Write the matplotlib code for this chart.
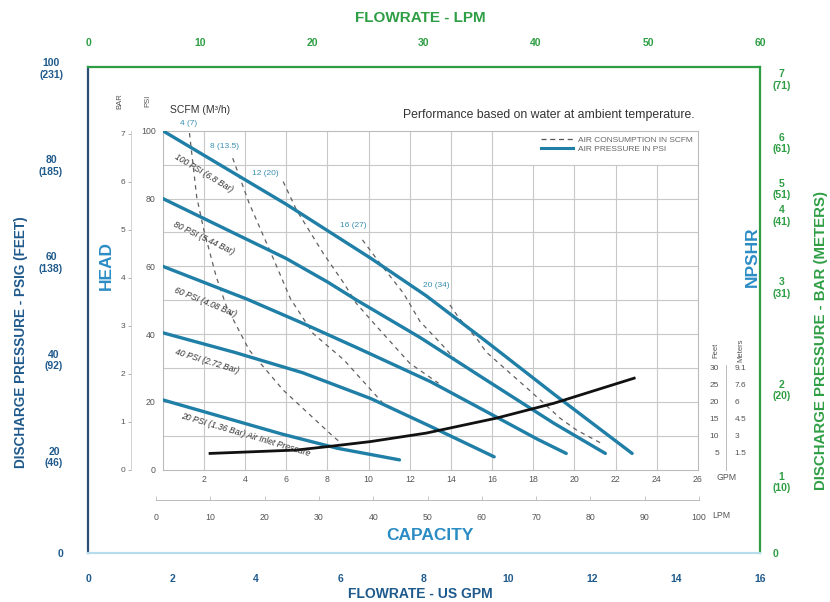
import numpy as np
import matplotlib
matplotlib.use('Agg')
import matplotlib.pyplot as plt
from matplotlib.lines import Line2D

plt.rcParams['font.family'] = ['Liberation Sans Narrow', 'Liberation Sans', 'DejaVu Sans']

# ---- data ----
# air inlet pressure curves (x = US GPM, y = PSI head)
p100_gpm = [0, 6.0, 10.1, 12.8, 15.7, 19.0, 22.8]
p100_psi = [100, 78.3, 62.4, 51.3, 37.9, 22.3, 4.8]
p80_gpm = [0, 6.0, 8.0, 9.4, 12.5, 15.7, 19.0, 21.5]
p80_psi = [80, 62.3, 55.4, 50.1, 39.0, 26.5, 13.7, 4.8]
p60_gpm = [0, 4.1, 6.8, 9.5, 13.0, 15.7, 18.2, 19.6]
p60_psi = [60, 50.3, 43.2, 35.8, 26.0, 17.2, 9.0, 4.8]
p40_gpm = [0, 3.5, 6.8, 10.1, 13.0, 16.1]
p40_psi = [40.4, 34.6, 28.6, 21.0, 12.8, 3.8]
p20_gpm = [0, 5.8, 8.5, 11.5]
p20_psi = [20.6, 10.5, 6.3, 2.9]
pressure_labels = ['100 PSI (6.8 Bar)', '80 PSI (5.44 Bar)', '60 PSI (4.08 Bar)',
                   '40 PSI (2.72 Bar)', '20 PSI (1.36 Bar) Air Inlet Pressure']

# air consumption curves (SCFM)
s4_gpm = [1.3, 1.65, 2.0, 2.6, 3.1, 4.2, 5.85, 8.3, 8.6]
s4_psi = [99.3, 80.5, 70.7, 56.9, 48.1, 35.3, 23.5, 9.7, 8.2]
s8_gpm = [3.4, 4.2, 5.4, 6.2, 7.3, 8.8, 10.7, 13.0]
s8_psi = [91.9, 78.6, 61.9, 50.5, 40.2, 32.4, 19.6, 12.7]
s12_gpm = [5.85, 6.5, 7.8, 8.8, 9.4, 10.4, 12.0, 13.4]
s12_psi = [85.0, 76.6, 63.8, 55.0, 49.1, 42.2, 31.4, 25.5]
s16_gpm = [9.7, 10.55, 11.7, 12.5, 13.5, 14.3, 15.4]
s16_psi = [67.8, 60.9, 52.0, 43.7, 37.3, 31.9, 27.5]
s20_gpm = [13.95, 14.4, 15.3, 15.7, 16.7, 17.8, 18.6, 19.3, 20.1, 21.3]
s20_psi = [48.6, 44.7, 38.3, 34.8, 29.4, 23.5, 19.1, 15.2, 11.7, 7.8]
scfm_labels = ['4 (7)', '8 (13.5)', '12 (20)', '16 (27)', '20 (34)']

# NPSHR curve (feet)
npshr_gpm = [2.3, 6.5, 8.0, 10.1, 12.8, 16.2, 19.0, 22.9]
npshr_ft = [4.8, 5.8, 6.8, 8.3, 10.8, 15.2, 19.6, 27.0]

# tick labels
left_labels = ['0', '20\n(46)', '40\n(92)', '60\n(138)', '80\n(185)', '100\n(231)']
right_labels = ['0', '1\n(10)', '2\n(20)', '3\n(31)', '4\n(41)', '5\n(51)', '6\n(61)', '7\n(71)']
right_label_pos = [0, 14.9, 33.8, 54.9, 69.7, 75.2, 84.6, 97.7]
feet_ticks = [5, 10, 15, 20, 25, 30]
meter_labels = ['1.5', '3', '4.5', '6', '7.6', '9.1']

# ---- colours ----
dark_blue = '#1f5a8c'
green = '#2e9e44'
curve_blue = '#1f7fa6'
title_blue = '#2b8cc4'
grey = '#555555'

W, H = 830, 602
def fx(px):
    return px / W
def fy(py):
    return 1 - py / H

fig = plt.figure(figsize=(8.3, 6.02), dpi=100)

# ---- outer frame ----
ax = fig.add_axes([fx(88), fy(553), (760 - 88) / W, (553 - 67) / H])
ax.set_xlim(0, 16)
ax.set_ylim(0, 100)
ax.set_xticks(range(0, 17, 2))
ax.set_yticks(range(0, 101, 20))
ax.set_yticklabels(left_labels, multialignment='center')
ax.tick_params(axis='x', length=0, pad=15, labelsize=7.5, labelcolor=dark_blue)
ax.tick_params(axis='y', length=0, pad=18, labelsize=7.5, labelcolor=dark_blue)
for t in ax.get_xticklabels() + ax.get_yticklabels():
    t.set_fontweight('bold')
ax.spines['left'].set_color('#2b4f74')
ax.spines['bottom'].set_color('#b7dcea')
ax.spines['top'].set_color(green)
ax.spines['right'].set_color(green)
for s in ax.spines.values():
    s.set_linewidth(1.6)

axt = ax.twiny()
axt.set_xlim(0, 60)
axt.set_xticks(range(0, 61, 10))
axt.tick_params(axis='x', length=0, pad=14, labelsize=7.5, labelcolor=green)
for t in axt.get_xticklabels():
    t.set_fontweight('bold')

axr = ax.twinx()
axr.set_ylim(0, 100)
axr.set_yticks(right_label_pos)
axr.set_yticklabels(right_labels, multialignment='center')
axr.tick_params(axis='y', length=0, pad=9, labelsize=7.5, labelcolor=green)
for t in axr.get_yticklabels():
    t.set_fontweight('bold')
for a in (axt, axr):
    for s in a.spines.values():
        s.set_visible(False)

fig.text(fx(420), fy(18), 'FLOWRATE - LPM', color=green, fontsize=11, fontweight='bold',
         ha='center', va='center')
fig.text(fx(420), fy(594), 'FLOWRATE - US GPM', color=dark_blue, fontsize=10, fontweight='bold',
         ha='center', va='center')
fig.text(fx(21), fy(342), 'DISCHARGE PRESSURE - PSIG (FEET)', color=dark_blue, fontsize=9.8,
         fontweight='bold', rotation=90, ha='center', va='center')
fig.text(fx(821), fy(340), 'DISCHARGE PRESSURE - BAR (METERS)', color=green, fontsize=10.8,
         fontweight='bold', rotation=90, ha='center', va='center')

# ---- inner performance chart ----
axi = fig.add_axes([fx(162.7), fy(469.7), (698 - 162.7) / W, (469.7 - 130.7) / H])
axi.set_xlim(0, 26)
axi.set_ylim(0, 100)
for gx in range(2, 26, 2):
    axi.axvline(gx, ymax=0.9 if gx > 16 else 1.0, color='#c8c8c8', lw=0.8, zorder=0)
for gy in range(10, 100, 10):
    axi.axhline(gy, color='#c8c8c8', lw=0.8, zorder=0)
for s in axi.spines.values():
    s.set_color('#bbbbbb')
    s.set_linewidth(0.8)

axi.set_xticks(range(2, 27, 2))
axi.set_yticks(range(0, 101, 20))
axi.tick_params(axis='both', length=0, labelsize=6.3, labelcolor=grey)
axi.tick_params(axis='x', pad=4)
axi.tick_params(axis='y', pad=5)

# bar scale on the left
axb = axi.secondary_yaxis(-0.06, functions=(lambda p: p / 14.15, lambda b: b * 14.15))
axb.set_yticks(range(0, 8))
axb.tick_params(axis='y', length=2, width=0.6, color='#aaaaaa', labelsize=6, labelcolor=grey, pad=2)
axb.spines['left'].set_color('#cccccc')
axb.spines['left'].set_linewidth(0.6)

pressure_sets = [(p100_gpm, p100_psi), (p80_gpm, p80_psi), (p60_gpm, p60_psi),
                 (p40_gpm, p40_psi), (p20_gpm, p20_psi)]
for gx, gy in pressure_sets:
    axi.plot(gx, gy, color=curve_blue, lw=2.4, solid_capstyle='round',
             solid_joinstyle='round', zorder=3)

scfm_sets = [(s4_gpm, s4_psi), (s8_gpm, s8_psi), (s12_gpm, s12_psi),
             (s16_gpm, s16_psi), (s20_gpm, s20_psi)]
for gx, gy in scfm_sets:
    axi.plot(gx, gy, color='#606060', lw=0.9, ls=(0, (3.5, 3.5)), zorder=2)

axi.plot(npshr_gpm, npshr_ft, color='#111111', lw=2.0, solid_joinstyle='round', zorder=4)

# curve labels
plabel_xy = [(1.98, 87.6, -31), (2.0, 68.2, -25.5), (2.05, 49.5, -22), (2.15, 31.9, -17),
             (4.05, 10.2, -16.5)]
for lab, (lx, ly, rot) in zip(pressure_labels, plabel_xy):
    axi.text(lx, ly, lab, fontsize=6.2, color='#333333', rotation=rot, rotation_mode='anchor',
             ha='center', va='center', style='italic', zorder=5)

slabel_xy = [(1.24, 102.2), (3.02, 95.2), (4.96, 87.5), (9.24, 72.1), (13.3, 54.4)]
for lab, (lx, ly) in zip(scfm_labels, slabel_xy):
    axi.text(lx, ly, lab, fontsize=6, color='#3a8fb0', ha='center', va='center', clip_on=False)

# legend
handles = [Line2D([], [], color='#555555', lw=0.9, ls=(0, (4, 3))),
           Line2D([], [], color=curve_blue, lw=2.2)]
leg = axi.legend(handles, ['AIR CONSUMPTION IN SCFM', 'AIR PRESSURE IN PSI'], loc='upper right',
                 frameon=False, fontsize=6, handlelength=3.8, labelspacing=0.15,
                 borderaxespad=0.25, handletextpad=0.6)
for t in leg.get_texts():
    t.set_color('#666666')

fig.text(fx(549), fy(115), 'Performance based on water at ambient temperature.', fontsize=8.8,
         color='#333333', ha='center', va='center')
fig.text(fx(200), fy(110), 'SCFM (M³/h)', fontsize=7.5, color='#333333', ha='center', va='center')
fig.text(fx(120), fy(101), 'BAR', fontsize=5.5, color=grey, rotation=90, ha='center', va='center')
fig.text(fx(148), fy(101), 'PSI', fontsize=5.5, color=grey, rotation=90, ha='center', va='center')
fig.text(fx(727), fy(478), 'GPM', fontsize=6.3, color=grey, ha='center', va='center')

fig.text(fx(106), fy(265), 'HEAD', fontsize=12.5, fontweight='bold', color=title_blue,
         rotation=90, ha='center', va='center')
fig.text(fx(752), fy(257), 'NPSHR', fontsize=12.5, fontweight='bold', color=title_blue,
         rotation=90, ha='center', va='center')
fig.text(fx(430), fy(535), 'CAPACITY', fontsize=12.5, fontweight='bold', color=title_blue,
         ha='center', va='center')

# LPM scale under the chart
axl = fig.add_axes([fx(156), fy(500), (699 - 156) / W, 0.0005])
axl.set_xlim(0, 100)
axl.set_xticks(range(0, 101, 10))
axl.set_yticks([])
axl.patch.set_visible(False)
for k in ('top', 'left', 'right'):
    axl.spines[k].set_visible(False)
axl.spines['bottom'].set_color('#bbbbbb')
axl.spines['bottom'].set_linewidth(0.7)
axl.tick_params(axis='x', direction='in', length=3, width=0.6, color='#bbbbbb',
                labelsize=6.3, labelcolor=grey, pad=9)
fig.text(fx(721), fy(515), 'LPM', fontsize=6.3, color=grey, ha='center', va='center')

# NPSHR feet / meters scale
axf = fig.add_axes([fx(726), fy(469.7), 0.0005, (469.7 - 130.7) / H])
axf.set_ylim(0, 100)
axf.set_xticks([])
axf.patch.set_visible(False)
for k in ('top', 'bottom', 'right'):
    axf.spines[k].set_visible(False)
axf.spines['left'].set_bounds(0, 31)
axf.spines['left'].set_color('#bbbbbb')
axf.spines['left'].set_linewidth(0.7)
axf.set_yticks(feet_ticks)
axf.tick_params(axis='y', length=0, labelsize=6, labelcolor=grey, pad=5)
axm = axf.twinx()
axm.set_ylim(0, 100)
axm.set_yticks(feet_ticks)
axm.set_yticklabels(meter_labels)
axm.tick_params(axis='y', length=0, labelsize=6, labelcolor=grey, pad=6)
for s in axm.spines.values():
    s.set_visible(False)
fig.text(fx(716), fy(350), 'Feet', fontsize=5.5, color=grey, rotation=90, ha='center', va='center')
fig.text(fx(741), fy(350), 'Meters', fontsize=5.5, color=grey, rotation=90, ha='center', va='center')

fig.savefig('out.png', dpi=100)
